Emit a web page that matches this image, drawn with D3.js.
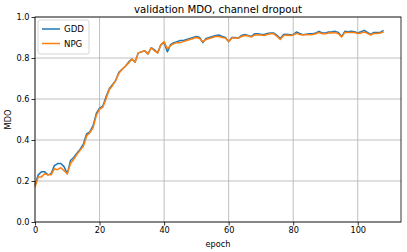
<!DOCTYPE html>
<html>
<head>
<meta charset="utf-8">
<script src="https://cdn.jsdelivr.net/npm/d3@7"></script>
<style>
  body { margin: 0; background: #fff; }
  svg { font-family: "DejaVu Sans", sans-serif; }
</style>
</head>
<body>
<svg id="chart" width="407" height="252"></svg>
<script>
  // validation MDO per epoch
  var gdd = [0.18, 0.23, 0.245, 0.245, 0.23, 0.235, 0.275, 0.285, 0.285, 0.27,
    0.235, 0.30, 0.315, 0.335, 0.355, 0.38, 0.43, 0.44, 0.47, 0.53,
    0.555, 0.565, 0.61, 0.65, 0.67, 0.69, 0.73, 0.745, 0.76, 0.78,
    0.795, 0.78, 0.825, 0.83, 0.835, 0.82, 0.85, 0.84, 0.825, 0.865,
    0.875, 0.83, 0.865, 0.875, 0.88, 0.885, 0.885, 0.89, 0.895, 0.90,
    0.905, 0.90, 0.875, 0.895, 0.90, 0.905, 0.91, 0.912, 0.905, 0.90,
    0.88, 0.90, 0.90, 0.897, 0.91, 0.915, 0.91, 0.905, 0.918, 0.918,
    0.916, 0.915, 0.92, 0.922, 0.922, 0.91, 0.895, 0.915, 0.916, 0.914,
    0.914, 0.927, 0.92, 0.914, 0.916, 0.918, 0.918, 0.922, 0.93, 0.922,
    0.922, 0.927, 0.928, 0.93, 0.925, 0.905, 0.93, 0.928, 0.93, 0.928,
    0.922, 0.928, 0.935, 0.925, 0.915, 0.925, 0.925, 0.925, 0.935];

  var npg = [0.17, 0.22, 0.22, 0.235, 0.23, 0.23, 0.26, 0.255, 0.265, 0.25,
    0.235, 0.285, 0.305, 0.33, 0.35, 0.37, 0.42, 0.435, 0.46, 0.52,
    0.55, 0.56, 0.60, 0.645, 0.665, 0.69, 0.725, 0.745, 0.76, 0.775,
    0.795, 0.78, 0.825, 0.83, 0.835, 0.82, 0.85, 0.835, 0.825, 0.865,
    0.88, 0.845, 0.86, 0.87, 0.875, 0.875, 0.88, 0.885, 0.89, 0.895,
    0.90, 0.895, 0.88, 0.89, 0.895, 0.90, 0.905, 0.905, 0.90, 0.897,
    0.88, 0.897, 0.897, 0.897, 0.905, 0.91, 0.908, 0.902, 0.912, 0.912,
    0.912, 0.91, 0.915, 0.918, 0.918, 0.905, 0.89, 0.91, 0.912, 0.91,
    0.912, 0.92, 0.915, 0.912, 0.914, 0.914, 0.915, 0.918, 0.924, 0.918,
    0.918, 0.922, 0.922, 0.924, 0.918, 0.903, 0.925, 0.924, 0.925, 0.924,
    0.92, 0.922, 0.927, 0.92, 0.912, 0.92, 0.92, 0.922, 0.927];

  var seriesNames = ["GDD", "NPG"];
  var seriesColors = ["#1f77b4", "#ff7f0e"];
  var xTicks = [0, 20, 40, 60, 80, 100];
  var yTicks = [0.0, 0.2, 0.4, 0.6, 0.8, 1.0];

  var margin = { top: 17, right: 6, bottom: 30, left: 35 };
  var width = 407 - margin.left - margin.right;
  var height = 252 - margin.top - margin.bottom;

  var svg = d3.select("#chart");
  var g = svg.append("g").attr("transform", "translate(" + margin.left + "," + margin.top + ")");

  var x = d3.scaleLinear().domain([0, 113.4]).range([0, width]);
  var y = d3.scaleLinear().domain([0, 1]).range([height, 0]);

  // grid
  g.append("g").selectAll("line").data(xTicks).enter().append("line")
    .attr("x1", function (d) { return x(d); }).attr("x2", function (d) { return x(d); })
    .attr("y1", 0).attr("y2", height)
    .attr("stroke", "#b0b0b0").attr("stroke-width", 0.8);
  g.append("g").selectAll("line").data(yTicks).enter().append("line")
    .attr("y1", function (d) { return y(d); }).attr("y2", function (d) { return y(d); })
    .attr("x1", 0).attr("x2", width)
    .attr("stroke", "#b0b0b0").attr("stroke-width", 0.8);

  // lines
  var line = d3.line()
    .x(function (d, i) { return x(i); })
    .y(function (d) { return y(d); });

  [gdd, npg].forEach(function (s, k) {
    g.append("path").datum(s)
      .attr("fill", "none")
      .attr("stroke", seriesColors[k])
      .attr("stroke-width", 1.5)
      .attr("stroke-linejoin", "round")
      .attr("d", line);
  });

  // axes
  var xAxis = g.append("g").attr("transform", "translate(0," + height + ")")
    .call(d3.axisBottom(x).tickValues(xTicks).tickSize(3.5).tickPadding(2).tickFormat(d3.format("d")));
  var yAxis = g.append("g")
    .call(d3.axisLeft(y).tickValues(yTicks).tickSize(3.5).tickPadding(2).tickFormat(d3.format(".1f")));
  [xAxis, yAxis].forEach(function (a) {
    a.select(".domain").remove();
    a.selectAll("text").attr("font-size", 8.2).attr("fill", "#000").attr("font-family", "DejaVu Sans");
    a.selectAll("line").attr("stroke", "#000").attr("stroke-width", 0.8);
  });

  // frame
  g.append("rect").attr("width", width).attr("height", height)
    .attr("fill", "none").attr("stroke", "#000").attr("stroke-width", 0.8);

  // texts
  svg.append("text").attr("x", margin.left + width / 2).attr("y", 13)
    .attr("text-anchor", "middle").attr("font-size", 10.2)
    .text("validation MDO, channel dropout");
  svg.append("text").attr("x", margin.left + width / 2).attr("y", 247)
    .attr("text-anchor", "middle").attr("font-size", 8.2)
    .text("epoch");
  svg.append("text")
    .attr("transform", "translate(11," + (margin.top + height / 2) + ") rotate(-90)")
    .attr("text-anchor", "middle").attr("font-size", 8.2)
    .text("MDO");

  // legend
  var leg = g.append("g").attr("transform", "translate(3,3)");
  leg.append("rect").attr("width", 51).attr("height", 34).attr("rx", 2)
    .attr("fill", "#fff").attr("fill-opacity", 0.8)
    .attr("stroke", "#ccc").attr("stroke-width", 0.8);
  seriesNames.forEach(function (n, k) {
    var yy = 9 + k * 14.5;
    leg.append("line").attr("x1", 4).attr("x2", 22).attr("y1", yy).attr("y2", yy)
      .attr("stroke", seriesColors[k]).attr("stroke-width", 1.5);
    leg.append("text").attr("x", 26).attr("y", yy + 3).attr("font-size", 8.6).text(n);
  });
</script>
</body>
</html>
